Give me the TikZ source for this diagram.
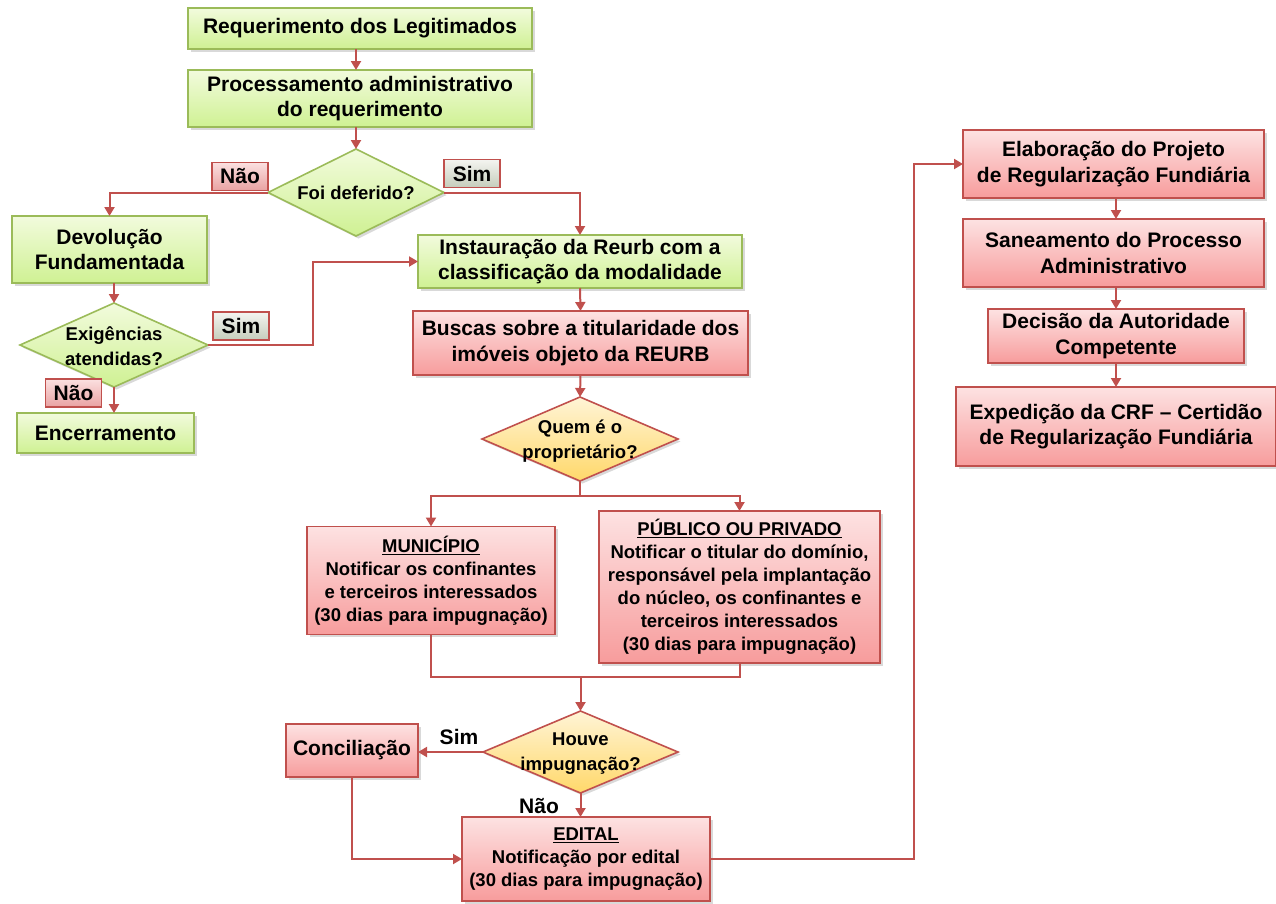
\documentclass[tikz,border=0pt]{standalone}
\usepackage{fontspec}
\setmainfont{Liberation Sans}
\usetikzlibrary{arrows.meta,shapes.geometric,shadows,calc}
\definecolor{lnred}{HTML}{C0504D}
\definecolor{grnb}{HTML}{9BBB59}
\definecolor{gtop}{HTML}{F2FBDD}
\definecolor{gbot}{HTML}{CFF193}
\definecolor{rtop}{HTML}{FDE2E2}
\definecolor{rbot}{HTML}{F79C9C}
\definecolor{ytop}{HTML}{FFF4D6}
\definecolor{ybot}{HTML}{FFD86A}
\definecolor{ntop}{HTML}{FBE0E0}
\definecolor{nbot}{HTML}{E9A2A2}
\definecolor{stop}{HTML}{F4F4F0}
\definecolor{sbot}{HTML}{C5CDBB}
\tikzset{
 base/.style={draw, line width=1.6pt, inner sep=0pt, outer sep=0pt, align=center,
   drop shadow={opacity=0.3, shadow xshift=2.5pt, shadow yshift=-2.5pt}},
 bigfont/.style={font=\bfseries\fontsize{21}{25.5}\selectfont},
 smlfont/.style={font=\bfseries\fontsize{18.5}{23}\selectfont},
 gbox/.style={base, rectangle, draw=grnb, top color=gtop, bottom color=gbot, bigfont},
 rbox/.style={base, rectangle, draw=lnred, top color=rtop, bottom color=rbot, bigfont},
 rsbox/.style={rbox, smlfont},
 gdia/.style={base, diamond, draw=grnb, top color=gtop, bottom color=gbot},
 ydia/.style={base, diamond, draw=lnred, top color=ytop, bottom color=ybot},
 dtext/.style={align=center, inner sep=0pt, font=\bfseries\fontsize{18.5}{25}\selectfont},
 nlab/.style={draw=lnred, line width=1.6pt, inner sep=0pt, top color=ntop, bottom color=nbot,
   minimum width=56pt, minimum height=28pt, bigfont},
 slab/.style={draw=lnred, line width=1.6pt, inner sep=0pt, top color=stop, bottom color=sbot,
   minimum width=56pt, minimum height=28pt, bigfont},
 plab/.style={inner sep=0pt, bigfont},
 conn/.style={draw=lnred, line width=2pt},
 arr/.style={conn, -{Triangle[width=10pt,length=9pt]}},
}
\begin{document}
\begin{tikzpicture}[x=1pt,y=-1pt]
\useasboundingbox (0,0) rectangle (1276,903);
% left / top column
\node[gbox, minimum width=344pt, minimum height=41pt] (req) at (360,28.5) {Requerimento dos Legitimados};
\node[gbox, minimum width=344pt, minimum height=57pt] (proc) at (360,98.5) {Processamento administrativo\\do requerimento};
\node[gdia, minimum width=176pt, minimum height=87pt] (foi) at (356,192.5) {};
\node[dtext] (foit) at (foi) {Foi deferido?};
\node[gbox, minimum width=195pt, minimum height=67pt] (dev) at (109.5,249.5) {Devolução\\Fundamentada};
\node[gdia, minimum width=188pt, minimum height=84pt] (exig) at (114,345) {};
\node[dtext] (exigt) at (114,346) {Exigências\\atendidas?};
\node[gbox, minimum width=177pt, minimum height=40pt] (enc) at (105.5,433) {Encerramento};
\node[gbox, minimum width=324pt, minimum height=53pt] (inst) at (580,261.5) {Instauração da Reurb com a\\classificação da modalidade};
\node[rbox, minimum width=335pt, minimum height=64pt] (busc) at (580.5,343) {Buscas sobre a titularidade dos\\imóveis objeto da REURB};
\node[ydia, minimum width=196pt, minimum height=84pt] (quem) at (580,439) {};
\node[dtext] (quemt) at (580,441) {Quem é o\\proprietário?};
\node[rsbox, minimum width=248pt, minimum height=108pt] (mun) at (431,580.5)
  {\underline{MUNICÍPIO}\\Notificar os confinantes\\e terceiros interessados\\(30 dias para impugnação)};
\node[rsbox, minimum width=281pt, minimum height=152pt] (pub) at (739.5,587)
  {\underline{PÚBLICO OU PRIVADO}\\Notificar o titular do domínio,\\responsável pela implantação\\do núcleo, os confinantes e\\terceiros interessados\\(30 dias para impugnação)};
\node[ydia, minimum width=195pt, minimum height=82pt] (houve) at (580.5,752) {};
\node[dtext] (houvet) at (580.5,754) {Houve\\impugnação?};
\node[rbox, minimum width=132pt, minimum height=53pt] (conc) at (352,750.5) {Conciliação};
\node[rsbox, minimum width=248pt, minimum height=84pt] (edital) at (586,859)
  {\underline{EDITAL}\\Notificação por edital\\(30 dias para impugnação)};
% right column
\node[rbox, minimum width=301pt, minimum height=68pt] (elab) at (1113.5,164) {Elaboração do Projeto\\de Regularização Fundiária};
\node[rbox, minimum width=301pt, minimum height=68pt] (san) at (1113.5,253) {Saneamento do Processo\\Administrativo};
\node[rbox, minimum width=256pt, minimum height=54pt] (dec) at (1116,336) {Decisão da Autoridade\\Competente};
\node[rbox, minimum width=320pt, minimum height=79pt] (exp) at (1116,426.5) {Expedição da CRF – Certidão\\de Regularização Fundiária};
% connectors
\draw[arr] (req.south -| foi.north) -- (proc.north -| foi.north);
\draw[arr] (proc.south -| foi.north) -- (foi.north);
\draw[arr] (foi.west) -| (dev.north);
\draw[arr] (foi.east) -| (inst.north);
\draw[arr] (dev.south -| exig.north) -- (exig.north);
\draw[arr] (exig.east) -- ++(105,0) |- (inst.west);
\draw[arr] (exig.south) -- (exig.south |- enc.north);
\draw[arr] (inst.south) -- (busc.north);
\draw[arr] (busc.south) -- (quem.north);
\draw[conn] (quem.south) -- ++(0,15) coordinate (qj);
\draw[arr] (qj) -| (mun.north);
\draw[arr] (qj) -| (pub.north);
\coordinate (jn) at (580.5,677);
\draw[conn] (mun.south) |- (jn);
\draw[conn] (pub.south) |- (jn);
\draw[arr] (jn) -- (houve.north);
\draw[arr] (houve.west) -- (houve.west -| conc.east);
\draw[arr] (houve.south) -- (houve.south |- edital.north);
\draw[arr] (conc.south) |- (edital.west);
\draw[arr] (edital.east) -- ++(204,0) |- (elab.west);
\draw[arr] (elab.south -| dec.north) -- (san.north -| dec.north);
\draw[arr] (san.south -| dec.north) -- (dec.north);
\draw[arr] (dec.south) -- (exp.north);
% labels
\node[nlab] (nao1) at (240,176.5) {Não};
\node[slab] (sim1) at (472,173.5) {Sim};
\node[slab] (sim2) at (241,326) {Sim};
\node[nlab] (nao2) at (73.5,393) {Não};
\node[plab] (sim3) at (459,737) {Sim};
\node[plab] (nao3) at (539,806) {Não};
\end{tikzpicture}
\end{document}
